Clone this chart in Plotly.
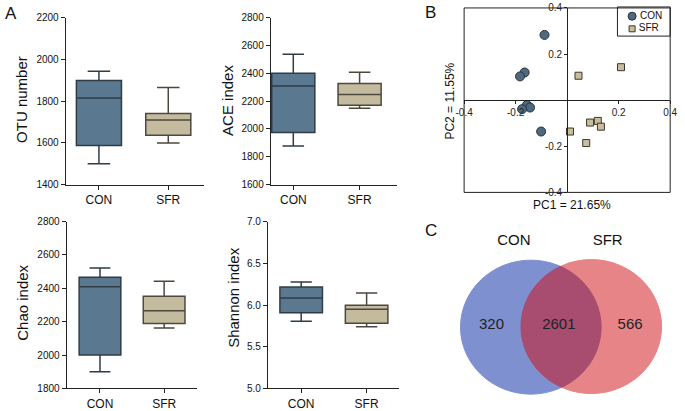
import plotly.graph_objects as go

# ---------------- data ----------------
groups = ["CON", "SFR"]

otu_q1 = [1588, 1637]
otu_median = [1815, 1710]
otu_q3 = [1899, 1741]
otu_low = [1500, 1600]
otu_high = [1943, 1865]

ace_q1 = [1974, 2170]
ace_median = [2309, 2247]
ace_q3 = [2400, 2326]
ace_low = [1877, 2149]
ace_high = [2537, 2407]

chao_q1 = [2000, 2190]
chao_median = [2410, 2266]
chao_q3 = [2466, 2352]
chao_low = [1900, 2163]
chao_high = [2522, 2443]

shannon_q1 = [5.907, 5.783]
shannon_median = [6.085, 5.95]
shannon_q3 = [6.217, 5.996]
shannon_low = [5.806, 5.74]
shannon_high = [6.275, 6.144]

con_pc1 = [-0.088, -0.165, -0.183, -0.156, -0.144, -0.175, -0.101]
con_pc2 = [0.283, 0.120, 0.103, -0.021, -0.032, -0.039, -0.136]
sfr_pc1 = [0.044, 0.209, 0.011, 0.089, 0.119, 0.131, 0.074]
sfr_pc2 = [0.106, 0.143, -0.136, -0.097, -0.090, -0.115, -0.186]

venn_labels = ["CON", "SFR"]
venn_counts = [320, 2601, 566]   # CON only, shared, SFR only

# ---------------- style ----------------
W, H = 685, 411
FONT = "Liberation Sans, Arial, sans-serif"
con_fill, sfr_fill = "#5a7890", "#c4bb9f"
con_line, sfr_line = "#2f3c46", "#4d483d"
con_mk = dict(symbol="circle", size=9, color="#4f697e", line=dict(color="#27333d", width=1))
sfr_mk = dict(symbol="square", size=7, color="#c9bd9b", line=dict(color="#3a372e", width=1))


def px_x(p):
    return p / W


def px_y(p):
    return 1 - p / H


fig = go.Figure()

panels = [
    ("", otu_q1, otu_median, otu_q3, otu_low, otu_high, [-0.48, 1.52],
     (58, 200, 12, 184), [1400, 2200], 200, "OTU number", (13, 96)),
    ("2", ace_q1, ace_median, ace_q3, ace_low, ace_high, [-0.34, 1.56],
     (268, 397, 12, 184), [1600, 2800], 200, "ACE index", (223, 97)),
    ("3", chao_q1, chao_median, chao_q3, chao_low, chao_high, [-0.52, 1.52],
     (59, 193, 222, 394), [1800, 2800], 200, "Chao index", (13, 306)),
    ("4", shannon_q1, shannon_median, shannon_q3, shannon_low, shannon_high, [-0.51, 1.49],
     (265, 399, 222, 394), [5.0, 7.0], 0.5, "Shannon index", (230, 300)),
]

annotations = []
for suf, q1, med, q3, lo, hi, xr, dom, yr, dt, title, tpos in panels:
    xa, ya = "x" + suf, "y" + suf
    for i, g in enumerate(groups):
        fig.add_trace(go.Box(
            x=[g], q1=[q1[i]], median=[med[i]], q3=[q3[i]],
            lowerfence=[lo[i]], upperfence=[hi[i]],
            fillcolor=con_fill if i == 0 else sfr_fill,
            line=dict(color=con_line if i == 0 else sfr_line, width=1.5),
            width=0.65, whiskerwidth=0.5, boxpoints=False,
            xaxis=xa, yaxis=ya, showlegend=False, hoverinfo="skip"))
    x0, x1, y0, y1 = dom
    fig.update_layout(**{
        "xaxis" + suf: dict(domain=[px_x(x0), px_x(x1)], range=xr, type="category",
                            showline=True, linecolor="#222", linewidth=1,
                            ticks="outside", ticklen=4, tickcolor="#222",
                            tickfont=dict(size=12, color="#111"), showgrid=False,
                            zeroline=False, anchor=ya, fixedrange=True),
        "yaxis" + suf: dict(domain=[px_y(y1), px_y(y0)], range=yr, dtick=dt,
                            tickformat=".1f" if dt < 1 else "d",
                            showline=True, linecolor="#222", linewidth=1,
                            ticks="outside", ticklen=4, tickcolor="#222",
                            tickfont=dict(size=10, color="#111"), showgrid=False,
                            zeroline=False, anchor=xa, fixedrange=True),
    })
    annotations.append(dict(text=title, x=px_x(tpos[0]), y=px_y(tpos[1]),
                            xref="paper", yref="paper", textangle=-90,
                            showarrow=False, font=dict(size=15, color="#111"),
                            xanchor="center", yanchor="middle"))

# ---------------- PCA panel ----------------
pca_dom_x = [px_x(466), px_x(677)]
pca_dom_y = [px_y(192), px_y(2)]
fig.add_trace(go.Scatter(x=con_pc1, y=con_pc2, mode="markers", name="CON",
                         marker=con_mk, xaxis="x5", yaxis="y5", showlegend=False))
fig.add_trace(go.Scatter(x=sfr_pc1, y=sfr_pc2, mode="markers", name="SFR",
                         marker=sfr_mk, xaxis="x5", yaxis="y5", showlegend=False))

pca_ticks = [-0.4, -0.2, 0.2, 0.4]
fig.update_layout(
    xaxis5=dict(domain=pca_dom_x, range=[-0.4, 0.4], anchor="free",
                position=(pca_dom_y[0] + pca_dom_y[1]) / 2,
                tickvals=pca_ticks, ticktext=[f"{v:.1f}" for v in pca_ticks],
                showline=True, linecolor="#222", linewidth=1, ticks="outside",
                ticklen=3, tickcolor="#222", tickfont=dict(size=10, color="#222"),
                showgrid=False, zeroline=False, fixedrange=True),
    yaxis5=dict(domain=pca_dom_y, range=[-0.4, 0.4], anchor="free",
                position=(pca_dom_x[0] + pca_dom_x[1]) / 2,
                tickvals=pca_ticks, ticktext=[f"{v:.1f}" for v in pca_ticks],
                showline=True, linecolor="#222", linewidth=1, ticks="outside",
                ticklen=3, tickcolor="#222", tickfont=dict(size=10, color="#222"),
                showgrid=False, zeroline=False, fixedrange=True),
)
shapes = [dict(type="rect", xref="paper", yref="paper",
               x0=pca_dom_x[0], x1=pca_dom_x[1], y0=pca_dom_y[0], y1=pca_dom_y[1],
               line=dict(color="#222", width=1), layer="above")]
annotations.append(dict(text="PC1 = 21.65%", x=px_x(576), y=px_y(205), xref="paper",
                        yref="paper", showarrow=False, font=dict(size=12, color="#111"),
                        xanchor="center", yanchor="middle"))
annotations.append(dict(text="PC2 = 11.55%", x=px_x(452), y=px_y(98), xref="paper",
                        yref="paper", textangle=-90, showarrow=False,
                        font=dict(size=12, color="#111"),
                        xanchor="center", yanchor="middle"))

# legend box (manual, compact like the reference)
shapes.append(dict(type="rect", xref="paper", yref="paper",
                   x0=px_x(623), x1=px_x(677), y0=px_y(31), y1=px_y(1),
                   fillcolor="white", line=dict(color="#222", width=1), layer="below"))
fig.update_layout(
    xaxis7=dict(domain=[px_x(623), px_x(677)], range=[0, 54], visible=False, fixedrange=True),
    yaxis7=dict(domain=[px_y(31), px_y(1)], range=[30, 0], visible=False, anchor="x7",
                fixedrange=True),
)
legend_names = ["CON", "SFR"]
for nm, mk, yy in zip(legend_names, [con_mk, sfr_mk], [9.5, 22.5]):
    fig.add_trace(go.Scatter(x=[15], y=[yy], mode="markers+text", text=["\u2009" + nm],
                             textposition="middle right", cliponaxis=False,
                             textfont=dict(size=10, color="#111", family=FONT),
                             marker=dict(mk, size=mk["size"] - 1),
                             xaxis="x7", yaxis="y7", showlegend=False, hoverinfo="skip"))

# ---------------- Venn panel ----------------
fig.update_layout(
    xaxis6=dict(domain=[px_x(440), 1], range=[0, 245], visible=False, fixedrange=True),
    yaxis6=dict(domain=[0, px_y(210)], range=[0, 201], visible=False, anchor="x6",
                fixedrange=True),
)
shapes.append(dict(type="circle", xref="x6", yref="y6",
                   x0=94.3 - 72, x1=94.3 + 72, y0=80.2 - 69, y1=80.2 + 69,
                   fillcolor="rgb(1,35,165)", opacity=0.5,
                   line=dict(color="rgb(1,35,165)", width=1), layer="below"))
shapes.append(dict(type="circle", xref="x6", yref="y6",
                   x0=156.2 - 72, x1=156.2 + 72, y0=80.8 - 69, y1=80.8 + 69,
                   fillcolor="rgb(209,11,17)", opacity=0.5,
                   line=dict(color="rgb(209,11,17)", width=1), layer="below"))
fig.add_trace(go.Scatter(
    x=[54, 123, 196], y=[82, 82, 82], mode="text",
    text=[str(v) for v in venn_counts], cliponaxis=False,
    textfont=dict(size=15, color="#222", family=FONT),
    xaxis="x6", yaxis="y6", showlegend=False, hoverinfo="skip"))
fig.add_trace(go.Scatter(
    x=[77, 173], y=[169, 169], mode="text", text=venn_labels, cliponaxis=False,
    textfont=dict(size=15, color="#111", family=FONT),
    xaxis="x6", yaxis="y6", showlegend=False, hoverinfo="skip"))

# ---------------- panel letters ----------------
for letter, (lx, ly) in {"A": (2, 8), "B": (432, 7), "C": (432, 231)}.items():
    annotations.append(dict(text=letter, x=px_x(lx), y=px_y(ly), xref="paper",
                            yref="paper", showarrow=False,
                            font=dict(size=17, color="#111"),
                            xanchor="center", yanchor="middle"))

fig.update_layout(
    width=W, height=H, margin=dict(l=0, r=0, t=0, b=0),
    paper_bgcolor="white", plot_bgcolor="rgba(0,0,0,0)",
    font=dict(family=FONT, color="#111"),
    showlegend=False,
    annotations=annotations, shapes=shapes,
)

fig.write_html("out.html", config={"displayModeBar": False},
               post_script="document.body.style.margin='0';"
                           "document.body.style.overflow='hidden';")
